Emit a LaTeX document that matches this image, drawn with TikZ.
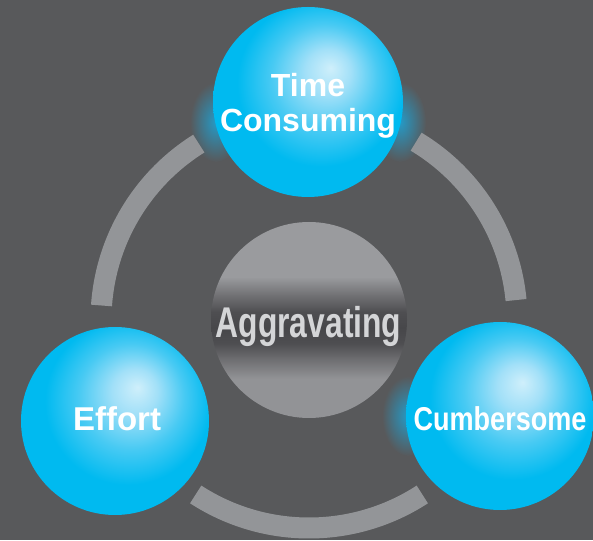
\documentclass[tikz,border=0pt]{standalone}
\usepackage{fontspec}
\setmainfont{Liberation Sans}
\newfontfamily\condA{Liberation Sans}[FakeStretch=0.82]
\newfontfamily\condB{Liberation Sans}[FakeStretch=0.74]
\definecolor{bg}{HTML}{58595B}
\definecolor{arcgray}{HTML}{939598}
\definecolor{glowblue}{HTML}{1BA6DA}
\definecolor{sphhl}{HTML}{CFEFFB}
\definecolor{sphhlb}{HTML}{A2E0F8}
\definecolor{sphmid}{HTML}{48CAF3}
\definecolor{sphbase}{HTML}{00BAF0}
\definecolor{gone}{HTML}{929396}
\definecolor{gtwo}{HTML}{9A9B9E}
\definecolor{gmid}{HTML}{6E6E71}
\definecolor{gdark}{HTML}{4E4E51}
\definecolor{gdarkest}{HTML}{47474A}
\definecolor{midtext}{HTML}{D4D5D7}
\pgfdeclareradialshading{bluesphere}{\pgfpoint{6bp}{9bp}}{color(0bp)=(sphhl); color(6bp)=(sphhlb); color(14bp)=(sphmid); color(22bp)=(sphbase); color(50bp)=(sphbase)}
\pgfdeclareverticalshading{midball}{100bp}{color(0bp)=(gone); color(25bp)=(gone); color(35bp)=(gone); color(40bp)=(gmid); color(44bp)=(gdark); color(48bp)=(gdarkest); color(52bp)=(gdark); color(56bp)=(gmid); color(61bp)=(gtwo); color(75bp)=(gtwo); color(100bp)=(gtwo)}
\begin{document}
\begin{tikzpicture}[x=1pt,y=1pt,
  sphere/.style={circle, inner sep=0pt, minimum size=#1, shade, shading=bluesphere},
  centreball/.style={circle, inner sep=0pt, minimum size=196pt, shade, shading=midball},
  spheretext/.style={anchor=base, inner sep=0pt, text=white, font=\bfseries\fontsize{32}{35}\selectfont},
  condtext/.style={anchor=base, inner sep=0pt, text=white, font=\condA\bfseries\fontsize{33}{36}\selectfont},
  midlabel/.style={anchor=base, inner sep=0pt, text=midtext, font=\condB\bfseries\fontsize{43}{46}\selectfont},
  ringarc/.style={draw=arcgray, line width=21pt},
  glowspot/.style={inner color=glowblue!85!bg, outer color=bg}]
\useasboundingbox (0,0) rectangle (593,540);
\fill[bg] (0,0) rectangle (593,540);
\coordinate (ctr) at (309,220);
\coordinate (ptc) at (308,438);
\coordinate (pef) at (115,119);
\coordinate (pcu) at (500,124);
% glows
\shade[glowspot] (216,418) ellipse [x radius=26, y radius=40];
\shade[glowspot] (400,418) ellipse [x radius=26, y radius=40];
\shade[glowspot] (408,124) ellipse [x radius=26, y radius=40];
% ring arcs
\draw[ringarc] ([shift={(5.5:208)}]ctr) arc[start angle=5.5, end angle=59, radius=208];
\draw[ringarc] ([shift={(122:208)}]ctr) arc[start angle=122, end angle=176, radius=208];
\draw[ringarc] ([shift={(237:208)}]ctr) arc[start angle=237, end angle=303, radius=208];
% centre
\node[centreball] (agg) at (ctr) {};
\node[midlabel] (aggt) at (308.5,202) {Aggravating};
% spheres
\node[sphere=190pt] (tc) at (ptc) {};
\node[sphere=188pt] (ef) at (pef) {};
\node[sphere=188pt] (cu) at (pcu) {};
\node[spheretext] (tct1) at (308,443) {Time};
\node[spheretext] (tct2) at (308,408) {Consuming};
\node[spheretext, font=\bfseries\fontsize{33}{36}\selectfont] (eft) at (117,109) {Effort};
\node[condtext] (cut) at (500,109) {Cumbersome};
\end{tikzpicture}
\end{document}
